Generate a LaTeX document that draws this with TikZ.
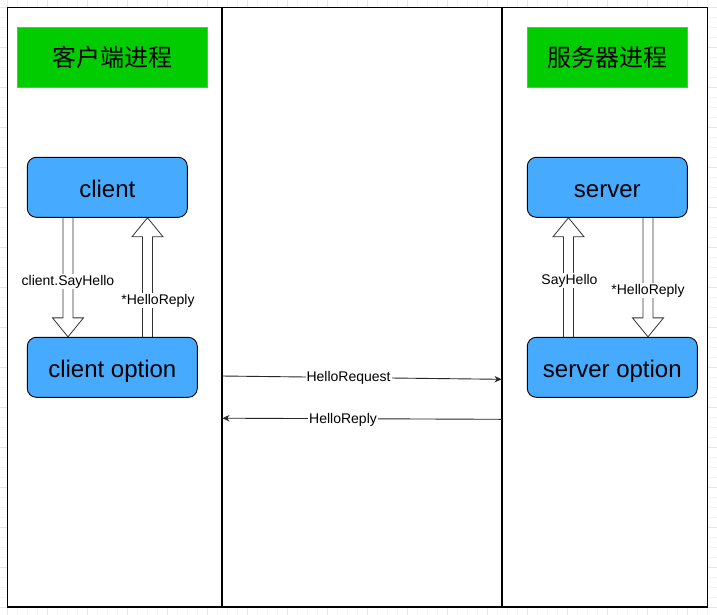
\documentclass[tikz,border=0pt]{standalone}
\usepackage{fontspec}
\setmainfont{Liberation Sans}
\newfontfamily\cjkfont{Noto Sans CJK SC}
\usetikzlibrary{calc,arrows.meta}
\pgfdeclarelayer{bglayer}
\pgfdeclarelayer{arrowlayer}
\pgfsetlayers{bglayer,arrowlayer,main}
\definecolor{boxgreen}{HTML}{00CC00}
\definecolor{greenedge}{HTML}{3DCF5C}
\definecolor{boxblue}{RGB}{70,170,255}
\definecolor{gridminor}{HTML}{F4F4F4}
\definecolor{gridmajor}{HTML}{E6E6E6}
\newcommand{\mkdownarrow}[2]{%
  \draw[barrow] ($(#1)+(-5,0)$) -- ($(#2)+(-5,-19)$) -- ($(#2)+(-15.5,-19)$) -- (#2)
    -- ($(#2)+(15.5,-19)$) -- ($(#2)+(5,-19)$) -- ($(#1)+(5,0)$);}
\newcommand{\mkuparrow}[2]{%
  \draw[barrow] ($(#1)+(-5,0)$) -- ($(#2)+(-5,19)$) -- ($(#2)+(-15.5,19)$) -- (#2)
    -- ($(#2)+(15.5,19)$) -- ($(#2)+(5,19)$) -- ($(#1)+(5,0)$);}
\begin{document}
\begin{tikzpicture}[x=1pt,y=-1pt,
  titlebox/.style={fill=boxgreen, draw=greenedge, line width=0.8pt, minimum height=60pt,
    inner sep=0pt, font=\cjkfont\fontsize{24}{28}\selectfont},
  procbox/.style={fill=boxblue, draw=black, line width=0.9pt, rounded corners=9pt,
    minimum height=60pt, inner sep=0pt, text height=20.6pt, text depth=0pt,
    font=\fontsize{24}{28}\selectfont},
  lbl/.style={fill=white, inner sep=1pt, font=\fontsize{14}{16}\selectfont},
  barrow/.style={draw=black!80, fill=white, line width=0.8pt, line join=miter},
  msg/.style={draw=black!85, line width=0.9pt, -{Stealth[length=7pt,width=6.5pt]}},
  lane/.style={draw=black, line width=2pt},
]
\useasboundingbox (0,0) rectangle (717,614);
\begin{pgfonlayer}{bglayer}
\fill[white] (0,0) rectangle (717,614);
% background grid
\draw[gridminor, line width=0.5pt, shift={(7.3,7.6)}] (-10,-10) grid[step=10pt] (720,620);
\draw[gridmajor, line width=0.6pt, shift={(7.3,7.6)}] (-40,-40) grid[step=40pt] (720,620);
% swimlanes
\draw[fill=white, draw=black, line width=1.2pt] (7.3,7.3) rectangle (707.5,607);
\coordinate (l1t) at (222,7.3);   \coordinate (l1b) at (222,607);
\coordinate (l2t) at (501.5,7.3); \coordinate (l2b) at (501.5,607);
\draw[lane] (l1t) -- (l1b);
\draw[lane] (l2t) -- (l2b);
\end{pgfonlayer}
% title boxes
\node[titlebox, minimum width=190.4pt] (t1) at (112.5,57.3) {客户端进程};
\node[titlebox, minimum width=160.4pt] (t2) at (607.5,57.3) {服务器进程};
% process boxes
\node[procbox, minimum width=160pt] (client) at (107.3,187.3) {client};
\node[procbox, minimum width=170pt] (clientopt) at (112.3,367.3) {client option};
\node[procbox, minimum width=160pt] (server) at (607.3,187.3) {server};
\node[procbox, minimum width=170pt] (serveropt) at (612.3,367.3) {server option};
% block arrows (beneath the boxes)
\coordinate (d1a) at ($(client.south)+(-39.3,0)$);   \coordinate (d1b) at (d1a |- clientopt.north);
\coordinate (u1a) at ($(clientopt.north)+(35.2,0)$); \coordinate (u1b) at (u1a |- client.south);
\coordinate (u2a) at ($(serveropt.north)+(-43.8,0)$);\coordinate (u2b) at (u2a |- server.south);
\coordinate (d2a) at ($(server.south)+(40.7,0)$);    \coordinate (d2b) at (d2a |- serveropt.north);
\begin{pgfonlayer}{arrowlayer}
\mkdownarrow{d1a}{d1b}
\mkuparrow{u1a}{u1b}
\mkuparrow{u2a}{u2b}
\mkdownarrow{d2a}{d2b}
\end{pgfonlayer}
% arrow labels
\node[lbl] (lb1) at ($(d1a)!0.5!(d1b)+(0,4.2)$) {client.SayHello};
\node[lbl] (lb2) at ($(u1a)!0.5!(u1b)+(10.5,23.2)$) {*HelloReply};
\node[lbl] (lb3) at ($(u2a)!0.5!(u2b)+(1,3.2)$) {SayHello};
\node[lbl] (lb4) at ($(d2a)!0.5!(d2b)+(0,13.2)$) {*HelloReply};
% messages between processes
\coordinate (reqS) at (222,376);   \coordinate (reqE) at (501.5,379.3);
\coordinate (repS) at (501.5,419.3); \coordinate (repE) at (222.5,418.2);
\draw[msg] (reqS) -- node[lbl, pos=0.453] (m1) {HelloRequest} (reqE);
\draw[msg] (repS) -- node[lbl, pos=0.568, yshift=-0.8pt] (m2) {HelloReply} (repE);
\end{tikzpicture}
\end{document}
